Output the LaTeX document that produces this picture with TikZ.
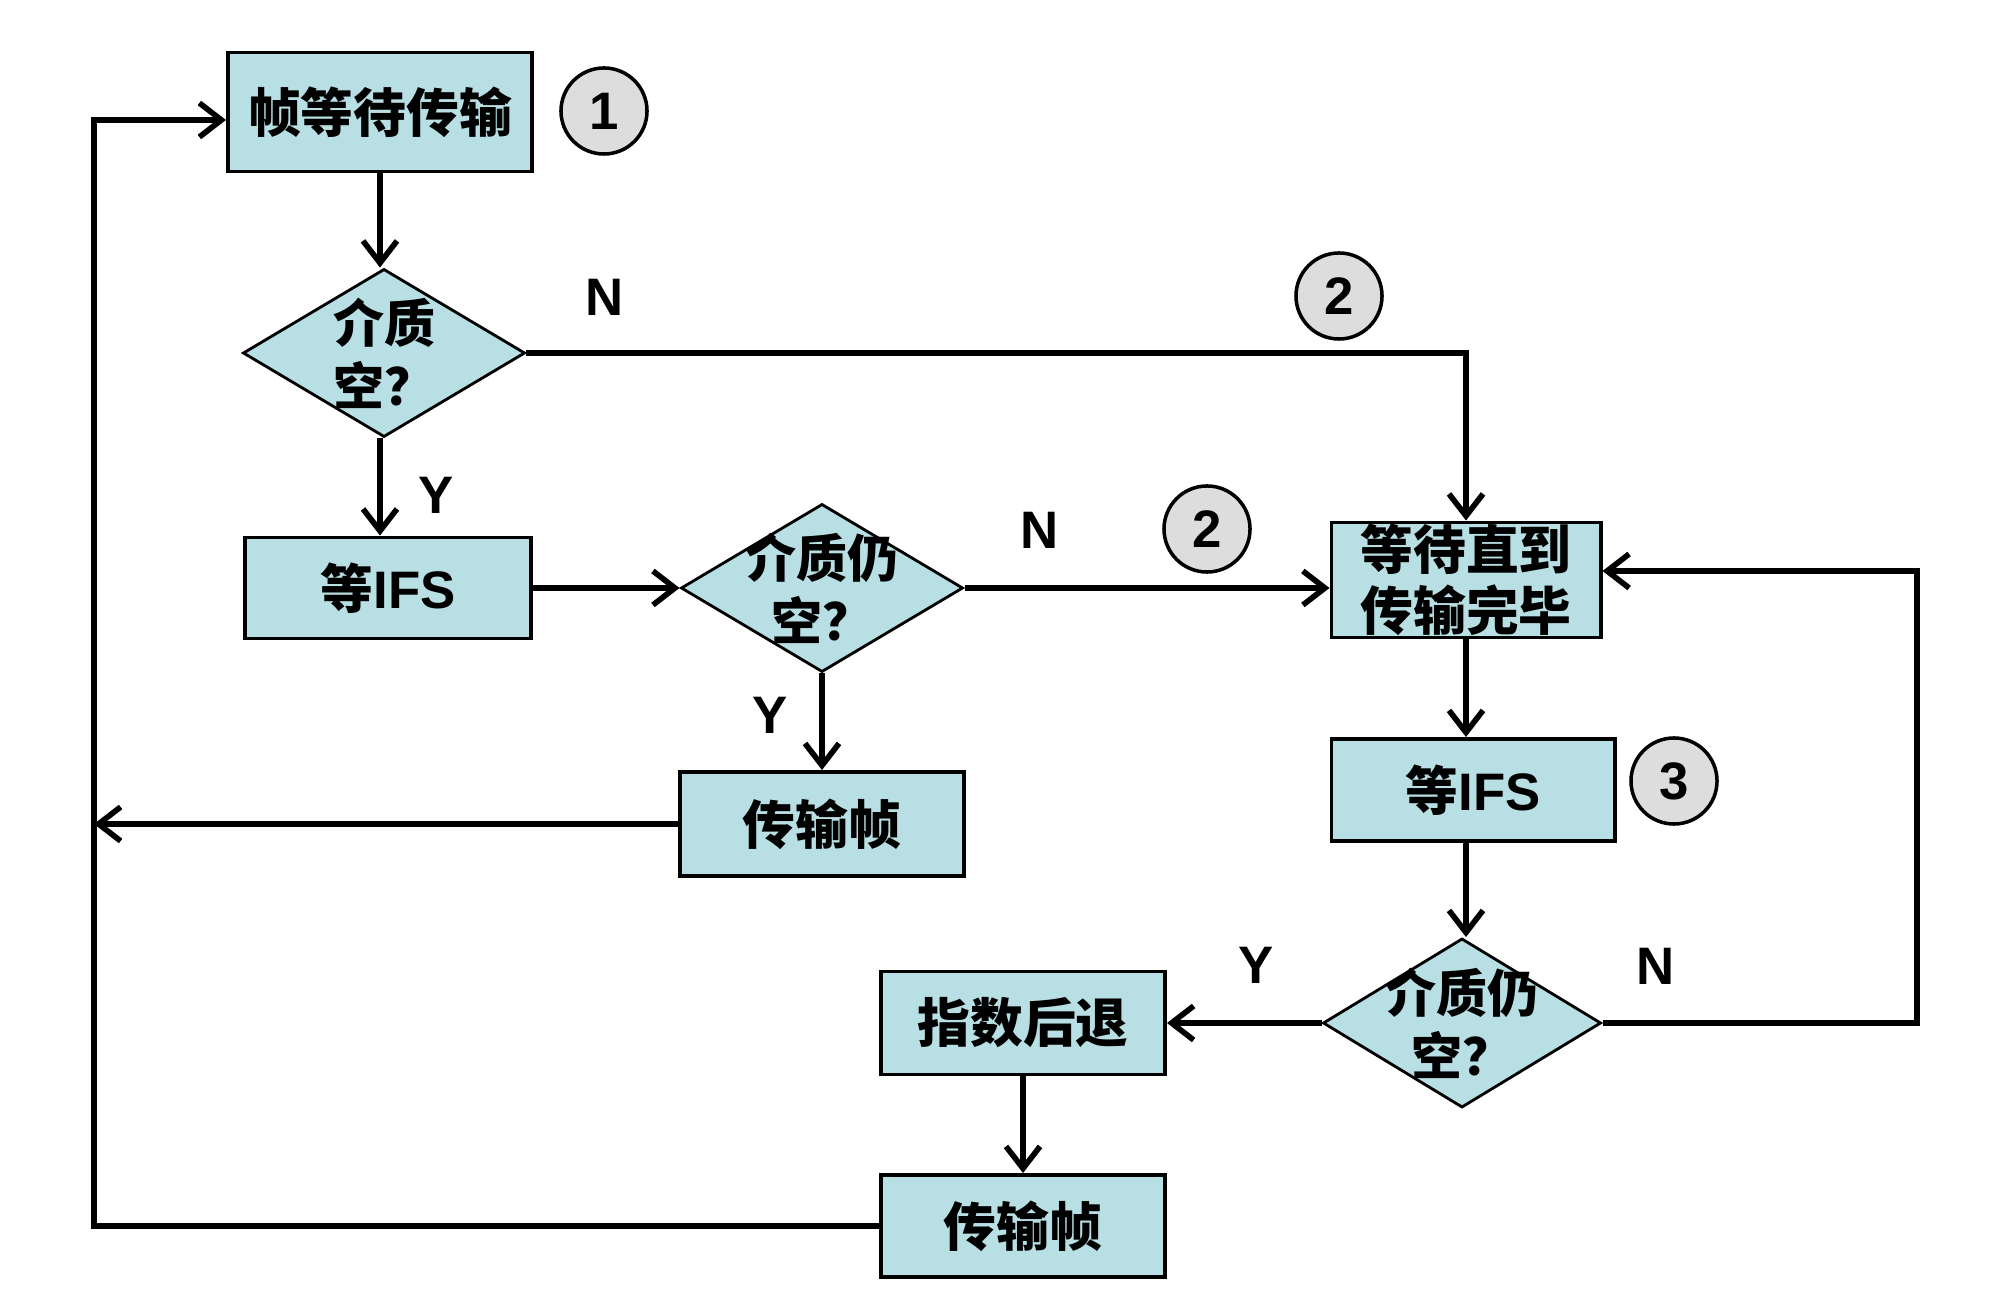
\documentclass[tikz,border=0pt]{standalone}
\usepackage{fontspec}
\setmainfont{Liberation Sans}
\newfontfamily\cjk{Noto Sans CJK SC}
\usepackage{xcolor}
\usetikzlibrary{shapes.geometric, arrows.meta, positioning}
\definecolor{boxfill}{RGB}{184,223,227}
\definecolor{markfill}{RGB}{221,221,221}

\begin{document}
\begin{tikzpicture}[
    x=0.01cm, y=-0.01cm,
    process/.style={rectangle, draw, line width=1.1pt, fill=boxfill, align=center, inner sep=0pt, font=\cjk\bfseries\fontsize{15}{17.5}\selectfont},
    decision/.style={diamond, draw, line width=0.8pt, fill=boxfill, minimum width=2.82cm, minimum height=1.68cm, inner sep=0pt},
    dtext/.style={align=center, font=\cjk\bfseries\fontsize{14.5}{18}\selectfont},
    numcircle/.style={circle, draw, line width=1pt, fill=markfill, minimum size=0.86cm, inner sep=0pt, font=\bfseries\fontsize{15}{15}\selectfont},
    yn/.style={font=\bfseries\fontsize{15}{15}\selectfont},
    arrow/.style={-{Straight Barb[length=2.2mm, width=3.4mm]}, line width=1.6pt}
]
    \useasboundingbox (0,0) rectangle (2000,1304);
    \node [process, minimum width=3.04cm, minimum height=1.19cm] (wait) at (380,112) {帧等待传输};
    \node [numcircle] (c1) at (604,111) {1};
    \node [decision, label={[dtext]center:介质\\空？}] (idle1) at (384,353) {};
    \node [process, minimum width=2.85cm, minimum height=1.01cm] (ifs1) at (388,588) {等{\rmfamily IFS}};
    \node [decision, label={[dtext]center:介质仍\\空？}] (idle2) at (822,588) {};
    \node [process, minimum width=2.83cm, minimum height=1.04cm] (send1) at (822,824) {传输帧};
    \node [process, minimum width=2.69cm, minimum height=1.15cm] (busy) at (1466,580) {等待直到\\传输完毕};
    \node [numcircle] (c2a) at (1339,296) {2};
    \node [numcircle] (c2b) at (1207,529) {2};
    \node [process, minimum width=2.83cm, minimum height=1.02cm] (ifs2) at (1473,790) {等{\rmfamily IFS}};
    \node [numcircle] (c3) at (1674,781) {3};
    \node [decision, minimum width=2.78cm, minimum height=1.69cm, label={[dtext]center:介质仍\\空？}] (idle3) at (1462,1023) {};
    \node [process, minimum width=2.84cm, minimum height=1.03cm] (backoff) at (1023,1023) {指数后退};
    \node [process, minimum width=2.84cm, minimum height=1.02cm] (send2) at (1023,1226) {传输帧};
    \node [yn] (n1) at (605,297) {N};
    \node [yn] (y1) at (436,495) {Y};
    \node [yn] (n2) at (1040,530) {N};
    \node [yn] (y2) at (770,715) {Y};
    \node [yn] (y3) at (1256,965) {Y};
    \node [yn] (n3) at (1656,966) {N};
    \coordinate (lx) at (94,0);
    \coordinate (rx) at (1917,0);
    \draw [arrow] (wait.south) -- (wait.south |- idle1.north);
    \draw [arrow] (idle1.east) -| (busy.north);
    \draw [arrow] (idle1.south -| wait.south) -- (wait.south |- ifs1.north);
    \draw [arrow] (ifs1.east) -- (idle2.west);
    \draw [arrow] (idle2.east) -- (idle2.east -| busy.west);
    \draw [arrow] (idle2.south) -- (idle2.south |- send1.north);
    \draw [arrow] (send1.west) -- (lx |- send1.west);
    \draw [arrow] (busy.south) -- (busy.south |- ifs2.north);
    \draw [arrow] (busy.south |- ifs2.south) -- (busy.south |- idle3.north);
    \draw [arrow] (idle3.west) -- (backoff.east);
    \draw [arrow] (idle3.east) -- (rx |- idle3.east) |- ([yshift=0.09cm]busy.east);
    \draw [arrow] (backoff.south) -- (send2.north);
    \draw [arrow] (send2.west) -- (lx |- send2.west) |- ([yshift=-0.08cm]wait.west);
\end{tikzpicture}
\end{document}
